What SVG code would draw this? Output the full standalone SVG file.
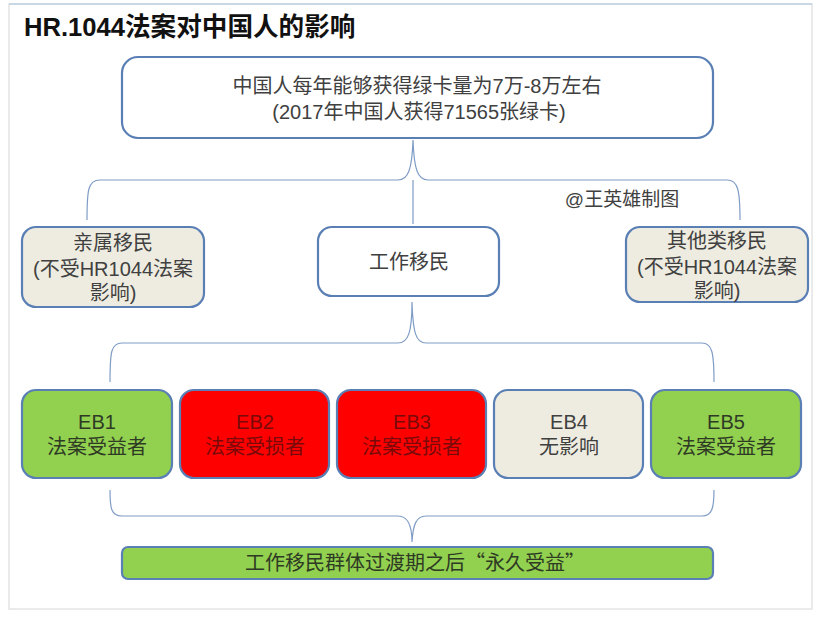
<svg xmlns="http://www.w3.org/2000/svg" width="823" height="621" viewBox="0 0 823 621">
<style>
.box{stroke:#5A7FB5;stroke-width:2.2}
.t{font-family:"Liberation Sans","Noto Sans CJK SC",sans-serif;font-size:20px;fill:#404040;text-anchor:middle}
.br{fill:none;stroke:#7F9CC6;stroke-width:1.2}
.beige{fill:#EEECE1}
.green{fill:#92D050}
.red{fill:#FF0000}
</style>
<rect x="0" y="0" width="823" height="621" fill="#ffffff"/>
<rect x="9" y="4" width="803" height="605" fill="#ffffff" stroke="#E4E4E4" stroke-width="1.5"/>
<line x1="9" y1="4" x2="812" y2="4" stroke="#C9D6E3" stroke-width="2"/>
<text x="24" y="36" font-family="'Liberation Sans','Noto Sans CJK SC',sans-serif" font-size="25.6" font-weight="bold" fill="#111">HR.1044法案对中国人的影响</text>

<g id="connectors">
<path class="br" d="M87 220 C87 190 88 180 100 180 L398 180 C408 180 412 170 413 140 C414 170 418 180 428 180 L727 180 C738 180 740 190 740 220"/>
<line class="br" x1="413" y1="180" x2="413" y2="224"/>
<path class="br" d="M110 382 C110 352 111 343 122 343 L398 343 C408 343 412 333 412 302 C413 333 416 343 426 343 L702 343 C712 343 714 352 714 382"/>
<path class="br" d="M110 490 C110 508 111 516 122 516 L398 516 C408 516 412 525 412 542 C413 525 416 516 426 516 L702 516 C712 516 714 508 714 490"/>
</g>

<g id="top">
<rect class="box" x="122" y="57" width="591" height="81" rx="16" fill="#ffffff"/>
<text class="t" x="417" y="93">中国人每年能够获得绿卡量为7万-8万左右</text>
<text class="t" x="419" y="119">(2017年中国人获得71565张绿卡)</text>
</g>

<text x="622" y="206" font-family="'Liberation Sans','Noto Sans CJK SC',sans-serif" font-size="19" fill="#404040" text-anchor="middle">@王英雄制图</text>

<g id="family">
<rect class="box beige" x="22" y="227" width="182" height="80" rx="14"/>
<text class="t" x="113" y="250">亲属移民</text>
<text class="t" x="113" y="276">(不受HR1044法案</text>
<text class="t" x="113" y="300">影响)</text>
</g>
<g id="work">
<rect class="box" x="318" y="227" width="181" height="69" rx="14" fill="#ffffff"/>
<text class="t" x="409" y="269">工作移民</text>
</g>
<g id="other">
<rect class="box beige" x="626" y="227" width="182" height="75" rx="14"/>
<text class="t" x="717" y="248">其他类移民</text>
<text class="t" x="717" y="274">(不受HR1044法案</text>
<text class="t" x="717" y="298">影响)</text>
</g>

<g id="eb1">
<rect class="box green" x="22" y="390" width="150" height="88" rx="14"/>
<text class="t" x="97" y="429" style="fill:#2E3A24">EB1</text>
<text class="t" x="97" y="454" style="fill:#2E3A24">法案受益者</text>
</g>
<g id="eb2">
<rect class="box red" x="180" y="390" width="149" height="88" rx="14"/>
<text class="t" x="255" y="429" style="fill:#7A0A0A">EB2</text>
<text class="t" x="255" y="454" style="fill:#7A0A0A">法案受损者</text>
</g>
<g id="eb3">
<rect class="box red" x="337" y="390" width="149" height="88" rx="14"/>
<text class="t" x="412" y="429" style="fill:#7A0A0A">EB3</text>
<text class="t" x="412" y="454" style="fill:#7A0A0A">法案受损者</text>
</g>
<g id="eb4">
<rect class="box beige" x="494" y="390" width="149" height="88" rx="14"/>
<text class="t" x="569" y="429">EB4</text>
<text class="t" x="569" y="454">无影响</text>
</g>
<g id="eb5">
<rect class="box green" x="651" y="390" width="150" height="88" rx="14"/>
<text class="t" x="726" y="429" style="fill:#2E3A24">EB5</text>
<text class="t" x="726" y="454" style="fill:#2E3A24">法案受益者</text>
</g>

<g id="result">
<rect class="box green" x="122" y="547" width="591" height="32" rx="6"/>
<text class="t" x="415" y="570" style="fill:#2E3A24;font-family:'Noto Sans CJK SC',sans-serif">工作移民群体过渡期之后“永久受益”</text>
</g>
</svg>
